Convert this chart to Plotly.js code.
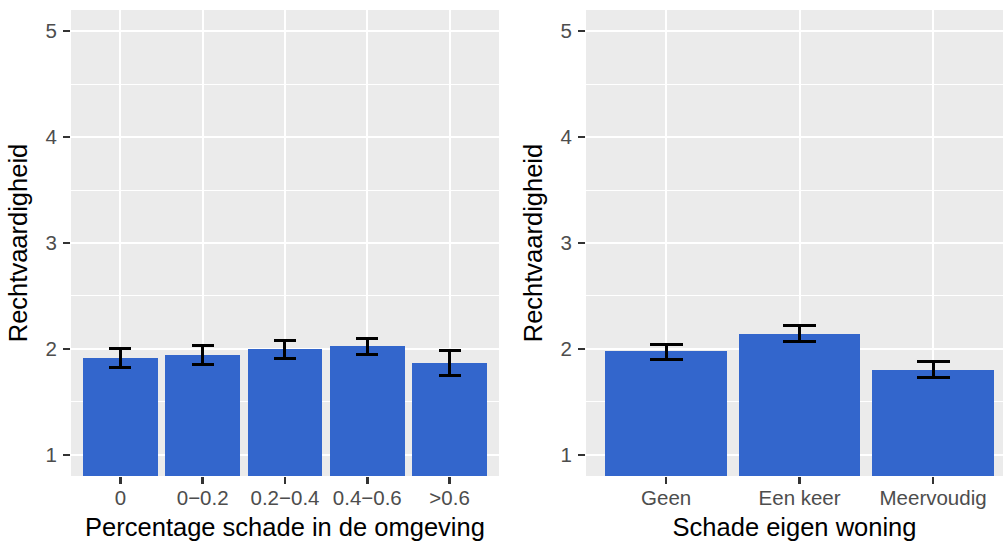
<!DOCTYPE html>
<html>
<head>
<meta charset="utf-8">
<script src="https://cdn.plot.ly/plotly-3.0.1.min.js"></script>
<style>
  html, body { margin: 0; padding: 0; background: #fff; overflow: hidden; }
  #chart { width: 1003px; height: 541px; }
</style>
</head>
<body>
<div id="chart"></div>
<script>
// Mean "Rechtvaardigheid" score by share of damaged homes in the neighbourhood
const omgevingCats = ['0', '0\u22120.2', '0.2\u22120.4', '0.4\u22120.6', '>0.6'];
const omgevingMean = [1.918, 1.943, 2.000, 2.025, 1.870];
const omgevingErrPlus = [0.085, 0.085, 0.081, 0.069, 0.117];
const omgevingErrMinus = [0.098, 0.089, 0.089, 0.076, 0.120];

// Mean score by damage to one's own home
const woningCats = ['Geen', 'Een keer', 'Meervoudig'];
const woningMean = [1.977, 2.142, 1.801];
const woningErrPlus = [0.063, 0.075, 0.082];
const woningErrMinus = [0.077, 0.076, 0.073];

const yTicks = [1, 2, 3, 4, 5];

const barColor = '#3366CC';
const fontFamily = '"Liberation Sans", Arial, sans-serif';

const traces = [
  {
    type: 'bar',
    x: omgevingCats,
    y: omgevingMean,
    width: 0.91,
    marker: { color: barColor },
    error_y: {
      type: 'data', symmetric: false,
      array: omgevingErrPlus, arrayminus: omgevingErrMinus,
      color: '#000', thickness: 3, width: 11
    },
    xaxis: 'x', yaxis: 'y',
    hoverinfo: 'x+y'
  },
  {
    type: 'bar',
    x: woningCats,
    y: woningMean,
    width: 0.91,
    marker: { color: barColor },
    error_y: {
      type: 'data', symmetric: false,
      array: woningErrPlus, arrayminus: woningErrMinus,
      color: '#000', thickness: 3, width: 16.5
    },
    xaxis: 'x2', yaxis: 'y2',
    hoverinfo: 'x+y'
  }
];

const tickFont = { family: fontFamily, size: 20.5, color: '#4D4D4D' };
const titleFont = { family: fontFamily, size: 25.5, color: '#000' };

function yAxis(anchor) {
  return {
    anchor: anchor,
    range: [0.8, 5.2],
    tickvals: yTicks,
    ticktext: yTicks.map(String),
    ticks: 'outside', ticklen: 7, tickwidth: 2.5, tickcolor: '#333',
    tickfont: tickFont,
    ticklabelstandoff: 2,
    showgrid: true, gridcolor: '#FFFFFF', gridwidth: 2,
    minor: { dtick: 0.5, tick0: 0.5, showgrid: true, gridcolor: '#FFFFFF', gridwidth: 1 },
    zeroline: false, showline: false,
    fixedrange: true,
    title: { text: 'Rechtvaardigheid', font: titleFont, standoff: 10 }
  };
}

function xAxis(domain, range, anchor, titleText) {
  return {
    domain: domain,
    anchor: anchor,
    type: 'category',
    range: range,
    ticks: 'outside', ticklen: 7, tickwidth: 2.5, tickcolor: '#333',
    tickfont: tickFont,
    ticklabelstandoff: -4,
    showgrid: true, gridcolor: '#FFFFFF', gridwidth: 2,
    zeroline: false, showline: false,
    fixedrange: true,
    title: { text: titleText, font: titleFont, standoff: 12 }
  };
}

const layout = {
  width: 1003,
  height: 541,
  margin: { l: 71, r: 0, t: 10, b: 64.5 },
  paper_bgcolor: '#FFFFFF',
  plot_bgcolor: '#EBEBEB',
  showlegend: false,
  bargap: 0,
  font: { family: fontFamily },
  xaxis: xAxis([0, 0.4592], [-0.6, 4.6], 'y', 'Percentage schade in de omgeving'),
  yaxis: yAxis('x'),
  xaxis2: xAxis([0.5526, 1], [-0.6, 2.524], 'y2', 'Schade eigen woning'),
  yaxis2: yAxis('x2')
};

Plotly.newPlot('chart', traces, layout, { displayModeBar: false, staticPlot: true });
</script>
</body>
</html>
